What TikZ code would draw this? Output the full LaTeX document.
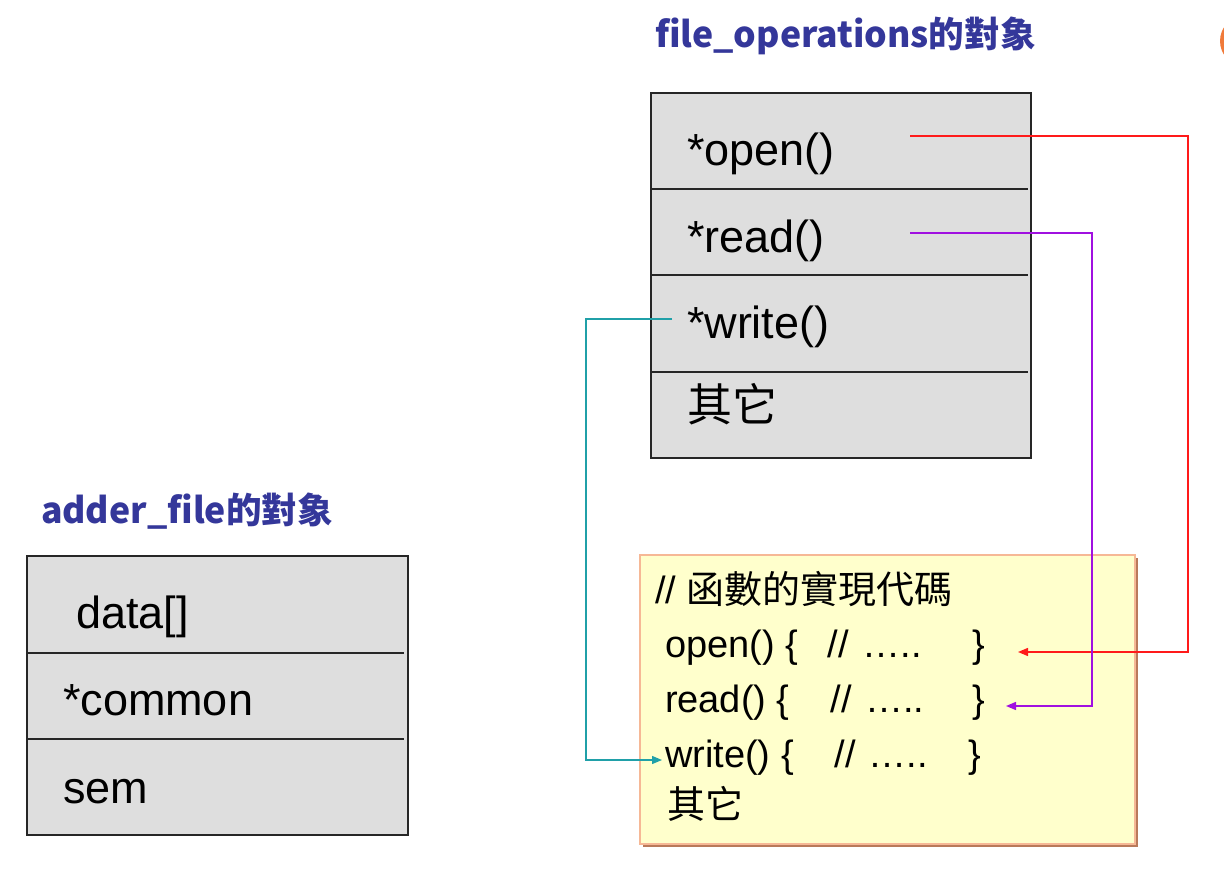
\documentclass[tikz,border=0pt]{standalone}
\usepackage{fontspec}
\setmainfont{Liberation Sans}
\newfontfamily\cjk{Noto Sans CJK TC}
\usetikzlibrary{arrows.meta}
\definecolor{boxgray}{HTML}{DEDEDE}
\definecolor{titleblue}{HTML}{34379A}
\definecolor{noteyellow}{HTML}{FFFFCC}
\definecolor{noteborder}{HTML}{F6B896}
\definecolor{noteshadow}{HTML}{B97A5A}
\definecolor{lnred}{HTML}{FF1A1A}
\definecolor{lnpurple}{HTML}{A010E0}
\definecolor{lnteal}{HTML}{20A0A8}
\definecolor{dotorange}{HTML}{F07A3A}
\begin{document}
\begin{tikzpicture}[x=1pt,y=-1pt,
  every node/.style={inner sep=0pt, outer sep=0pt},
  box/.style={draw=black!85, line width=1.3pt, fill=boxgray, anchor=north west},
  sepline/.style={draw=black!85, line width=1.3pt},
  field/.style={anchor=base west, font=\fontsize{45}{45}\selectfont},
  cjkfield/.style={anchor=base west, font=\cjk\fontsize{45}{45}\selectfont},
  codeline/.style={anchor=base west, font=\fontsize{38}{38}\selectfont},
  title/.style={anchor=base west, text=titleblue, font=\cjk\bfseries\fontsize{35.6}{35.6}\selectfont},
  conn/.style={line width=1.3pt, -{Triangle[length=10pt,width=8pt]}}
]
\useasboundingbox (0,0) rectangle (1224,874);

% orange partial circle at top right
\begin{scope}
  \clip (0,0) rectangle (1224,874);
  \fill[dotorange] (1246,41) circle (26);
\end{scope}

% titles
\node[title] (fotitle) at (655,48) {file\_operations的對象};
\node[title] (adtitle) at (41,523) {adder\_file的對象};

% file_operations box
\node[box, minimum width=380pt, minimum height=365pt] (fo) at (651,93) {};
\draw[sepline] (651,189) -- (1028,189);
\draw[sepline] (651,275) -- (1028,275);
\draw[sepline] (651,372) -- (1028,372);
\node[field] (fopen) at (687,166) {*open()};
\node[field] (fread) at (687,253) {*read()};
\node[field] (fwrite) at (687,339) {*write()};
\node[cjkfield] (fother) at (687,422) {其它};

% adder_file box
\node[box, minimum width=381pt, minimum height=279pt] (ad) at (27,556) {};
\draw[sepline] (27,653) -- (404,653);
\draw[sepline] (27,739) -- (404,739);
\node[field] (adata) at (76,628) {data[]};
\node[field] (acommon) at (63,715) {*common};
\node[field] (asem) at (63,803) {sem};

% implementation note
\fill[noteshadow] (643,558) rectangle (1138,847);
\node[draw=noteborder, line width=2.5pt, fill=noteyellow, anchor=north west,
      minimum width=495pt, minimum height=289pt] (note) at (640,555) {};
\node[anchor=base west, font=\fontsize{38}{38}\selectfont] (ncomment) at (655,603)
  {// {\cjk\fontsize{38}{38}\selectfont 函數的實現代碼}};
\node[codeline] (nopen) at (665,657)
  {\makebox[163pt][l]{open() \{}\makebox[35pt][l]{//}\makebox[109pt][l]{…..}\}};
\node[codeline] (nread) at (665,712)
  {\makebox[166pt][l]{read() \{}\makebox[34pt][l]{//}\makebox[108pt][l]{…..}\}};
\node[codeline] (nwrite) at (665,767)
  {\makebox[170pt][l]{write() \{}\makebox[34pt][l]{//}\makebox[99pt][l]{…..}\}};
\node[anchor=base west, font=\cjk\fontsize{38}{38}\selectfont] (nother) at (667,818) {其它};

% connector end points
\coordinate (openS) at (910,136);
\coordinate (openT) at (1018,652);
\coordinate (readS) at (910,233);
\coordinate (readT) at (1006,706);
\coordinate (writeS) at (672,319);
\coordinate (writeT) at (662,760);

\draw[conn, draw=lnred] (openS) -- (1188,136) |- (openT);
\draw[conn, draw=lnpurple] (readS) -- (1092,233) |- (readT);
\draw[conn, draw=lnteal] (writeS) -- (586,319) |- (writeT);
\end{tikzpicture}
\end{document}
